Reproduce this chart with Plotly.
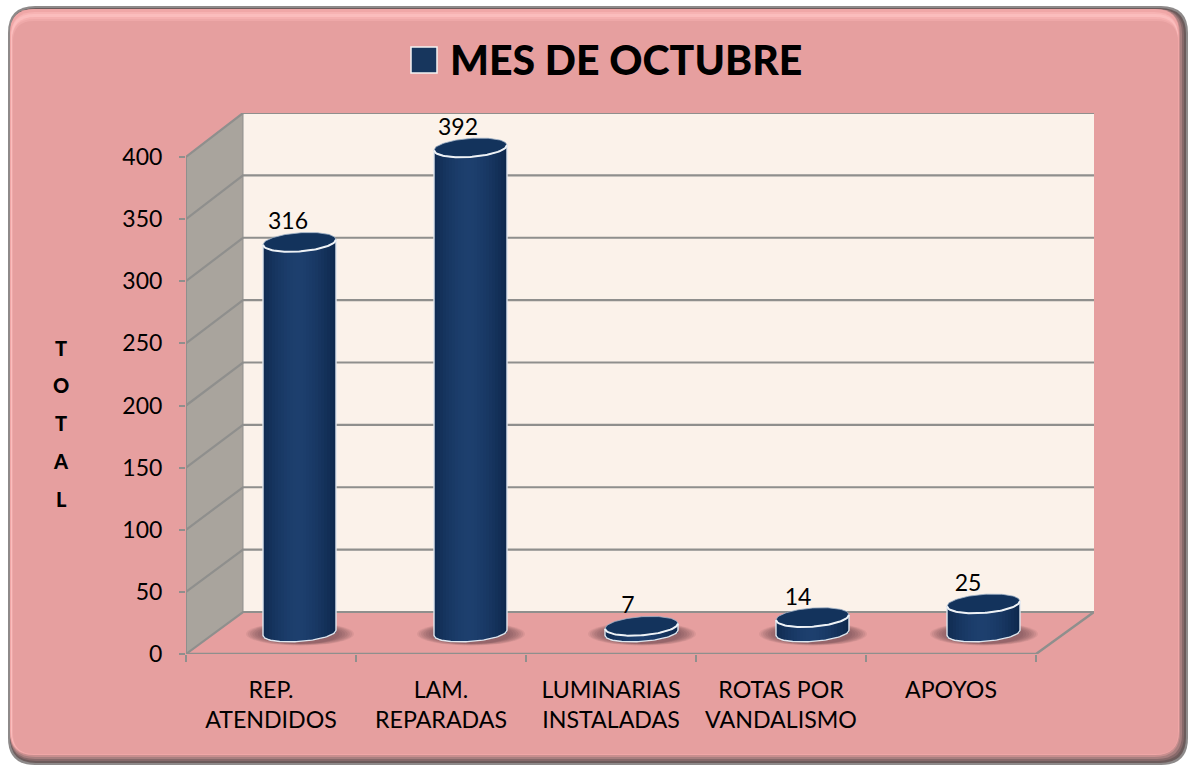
import math
import plotly.graph_objects as go

categories = ["REP.<br>ATENDIDOS", "LAM.<br>REPARADAS", "LUMINARIAS<br>INSTALADAS",
              "ROTAS POR<br>VANDALISMO", "APOYOS"]
values = [316, 392, 7, 14, 25]
y_ticks = [0, 50, 100, 150, 200, 250, 300, 350, 400]
legend_label = "MES DE OCTUBRE"
axis_title = ["T", "O", "T", "A", "L"]

W, H = 1190, 766
FONT = "Lato"
PINK = "#e69f9f"
GREY = "#8f8f8d"
PX_X = 170.0          # pixels per category
PX_Y = 497 / 400.0    # pixels per unit
X_MAX = 4.5 + 58 / PX_X
Y_MAX = 541 / PX_Y
WALL_DX = 57 / PX_X
def wall_dy(v):
    return 33.8 + v * 0.004

BAR_DX = 28.5 / PX_X
BAR_DRIFT = 1.0 / PX_X    # perspective: bars sit slightly further apart than the ticks
BAR_HW = 36.5 / PX_X
BASE_DY = 17.0
TOP_DY = 15.5
ELL_B = 9.3 / PX_Y
TILT = 2.6 / PX_Y
N_STRIPS = 24
LABEL_DX = 17 / PX_X
LABEL_DY = 18.5 / PX_Y

def px(x): return x / W
def py(y): return 1 - y / H

def rrect(x0, y0, x1, y1, r):
    a, b, c, d = px(x0), py(y0), px(x1), py(y1)
    rx, ry = r / W, r / H
    return (f"M{a+rx},{b} L{c-rx},{b} Q{c},{b} {c},{b-ry} L{c},{d+ry} Q{c},{d} {c-rx},{d} "
            f"L{a+rx},{d} Q{a},{d} {a},{d+ry} L{a},{b-ry} Q{a},{b} {a+rx},{b} Z")

shapes = []
def panel(x0, y0, x1, y1, r, col):
    shapes.append(dict(type="path", path=rrect(x0, y0, x1, y1, r), xref="paper", yref="paper",
                       fillcolor=col, line=dict(width=0), layer="below"))

panel(8, 6, 1188, 765, 27, "#8e8a8a")
panel(10, 8, 1186, 763, 26, "#6c5b5b")
panel(10, 9, 1184, 761, 26, "#87696a")
panel(10, 9, 1182, 759, 25, "#a87f7f")
panel(10, 9, 1180, 757, 25, "#c98f8f")
panel(10, 9, 1179, 755, 24, "#f0a7a7")
panel(11, 12, 1178, 754, 24, "#f7b3b3")
panel(11, 14, 1178, 754, 23, "#fbbdbd")
panel(12, 17, 1178, 754, 23, "#f5b0b0")
panel(12, 19, 1178, 754, 22, "#eea8a8")
panel(13, 21, 1178, 754, 21, PINK)

def ax_line(xs, ys, width=2.0, color=GREY):
    shapes.append(dict(type="path", xref="x2", yref="y", layer="below",
                       path="M" + " L".join(f"{a},{b}" for a, b in zip(xs, ys)),
                       line=dict(color=color, width=width)))

# walls, in the axes' own units
side_pts = [(-0.5, 0), (-0.5 + WALL_DX, wall_dy(0)), (-0.5 + WALL_DX, 400 + wall_dy(400)), (-0.5, 400)]
shapes.append(dict(type="path", xref="x2", yref="y", layer="below", fillcolor="#a9a49d", line=dict(width=0),
                   path="M" + " L".join(f"{a},{b}" for a, b in side_pts) + " Z"))
shapes.append(dict(type="rect", xref="x2", yref="y", layer="below", fillcolor="#fbf2ea", line=dict(width=0),
                   x0=-0.5 + WALL_DX, x1=X_MAX, y0=wall_dy(0), y1=400 + wall_dy(400)))

# grid on walls and frame
for t in y_ticks:
    d = wall_dy(t)
    ax_line([-0.5, -0.5 + WALL_DX, X_MAX], [t, t + d, t + d], 2.2)
ax_line([-0.5, -0.5], [0, 400], 2)
ax_line([-0.5, 4.5, X_MAX], [0, 0, wall_dy(0)], 2.5)
ax_line([-0.5 + WALL_DX, -0.5 + WALL_DX], [wall_dy(0), 400 + wall_dy(400)], 1)

# soft shadows under the cylinders
bar_centres = [i + BAR_DX + i * BAR_DRIFT for i in range(len(values))]
for cx in bar_centres:
    cs = cx + 0.5 / PX_X
    for grow, hpx, op in [(1.48, 11.5, .10), (1.43, 11.2, .12), (1.37, 10.8, .13), (1.31, 10.4, .14),
                          (1.24, 10, .14), (1.16, 10, .14), (1.08, 10, .14)]:
        hw = BAR_HW * grow
        hh = hpx / PX_Y
        shapes.append(dict(type="circle", xref="x2", yref="y", layer="below",
                           x0=cs - hw, x1=cs + hw, y0=16.1 - hh, y1=16.1 + hh,
                           fillcolor="#6b4a50", opacity=op, line=dict(width=0)))

# legend swatch
shapes.append(dict(type="rect", xref="paper", yref="paper", x0=px(411), x1=px(437), y0=py(73), y1=py(47),
                   fillcolor="#17365d", line=dict(color="#f4f4f4", width=1.5), layer="above"))

fig = go.Figure()

def lerp_col(t):
    c0, c1 = (14, 41, 78), (29, 63, 110)
    return "rgb(%d,%d,%d)" % tuple(round(a + (b - a) * t) for a, b in zip(c0, c1))

# cylinder bodies as vertical strips: each strip follows the lower rim of the ellipse
for s in range(N_STRIPS):
    u0 = -1 + 2 * s / N_STRIPS
    u1 = -1 + 2 * (s + 1) / N_STRIPS
    u = (u0 + u1) / 2
    base = BASE_DY + TILT * u - 8.6 / PX_Y * math.sqrt(max(0, 1 - u * u))
    top_offset = TOP_DY + TILT * u
    heights = [v + top_offset - base for v in values]
    shade = 1 - abs(u + 0.05) ** 1.6
    fig.add_trace(go.Bar(x=categories, y=heights, base=[base] * len(values),
                         width=(u1 - u0) * BAR_HW + 0.0005,
                         offset=[cx - i + u0 * BAR_HW for i, cx in enumerate(bar_centres)],
                         marker=dict(color=lerp_col(max(0, shade)), line=dict(width=0)),
                         hoverinfo="skip", showlegend=False))

STEPS = 48
for cx, v in zip(bar_centres, values):
    top = v + TOP_DY
    us = [-1 + 2 * k / STEPS for k in range(STEPS + 1)]
    low = [math.sqrt(max(0, 1 - a * a)) for a in us]
    # lower rim and sides
    rim_x = [cx - BAR_HW, cx - BAR_HW] + [cx + a * BAR_HW for a in us] + [cx + BAR_HW, cx + BAR_HW]
    rim_y = [top - TILT, BASE_DY - TILT] + [BASE_DY + TILT * a - 8.6 / PX_Y * b for a, b in zip(us, low)] + \
            [BASE_DY + TILT, top + TILT]
    fig.add_trace(go.Scatter(x=rim_x, y=rim_y, xaxis="x2", mode="lines",
                             line=dict(color="#dfe6ee", width=1.4), hoverinfo="skip", showlegend=False))
    # cap
    cap_x = [cx + a * BAR_HW for a in us] + [cx + a * BAR_HW for a in reversed(us)]
    cap_y = [top + TILT * a + ELL_B * b for a, b in zip(us, low)] + \
            [top + TILT * a - ELL_B * b for a, b in zip(reversed(us), reversed(low))]
    fig.add_trace(go.Scatter(x=cap_x, y=cap_y, xaxis="x2", mode="lines", fill="toself", fillcolor="#13335c",
                             line=dict(color="#9fb3c8", width=0.8), hoverinfo="skip", showlegend=False))
    fig.add_trace(go.Scatter(x=[cx + a * BAR_HW for a in us],
                             y=[top + TILT * a - ELL_B * b for a, b in zip(us, low)], xaxis="x2", mode="lines",
                             line=dict(color="#eef2f6", width=2), hoverinfo="skip", showlegend=False))

# value labels
fig.add_trace(go.Scatter(x=[i + LABEL_DX for i in range(len(values))],
                         y=[v + TOP_DY + LABEL_DY for v in values], xaxis="x2", mode="text",
                         text=[str(v) for v in values], textposition="middle center",
                         textfont=dict(family=FONT, size=23, color="#000000"),
                         hoverinfo="skip", showlegend=False, cliponaxis=False))

annotations = [dict(text=legend_label, xref="paper", yref="paper", x=px(448), y=py(60),
                    xanchor="left", yanchor="middle", showarrow=False,
                    font=dict(family=FONT, size=41, color="#000000", weight=900))]
for ch, yy in zip(axis_title, [348, 385, 423, 461, 499]):
    annotations.append(dict(text=ch, xref="paper", yref="paper", x=px(61), y=py(yy),
                            xanchor="center", yanchor="middle", showarrow=False,
                            font=dict(family=FONT, size=20, color="#000000", weight=900)))

fig.update_layout(
    width=W, height=H, autosize=False, margin=dict(l=0, r=0, t=0, b=0),
    paper_bgcolor="#ffffff", plot_bgcolor="rgba(0,0,0,0)", barmode="overlay", bargap=0,
    showlegend=False, shapes=shapes, annotations=annotations,
    xaxis=dict(type="category", categoryorder="array", categoryarray=categories,
               domain=[px(186), px(1094)], range=[-0.5, X_MAX], tickson="boundaries",
               ticks="outside", ticklen=7, tickwidth=2, tickcolor=GREY, showgrid=False,
               showline=False, zeroline=False, fixedrange=True, ticklabelstandoff=20,
               tickangle=0, automargin=False,
               tickfont=dict(family=FONT, size=23.2, color="#000000")),
    xaxis2=dict(type="linear", overlaying="x", anchor="y", range=[-0.5, X_MAX], visible=False, fixedrange=True),
    yaxis=dict(domain=[py(654), py(113)], range=[0, Y_MAX], tickmode="array", tickvals=y_ticks,
               ticks="outside", ticklen=6, tickwidth=2, tickcolor=GREY, showgrid=False, showline=False,
               zeroline=False, fixedrange=True, ticklabelstandoff=12, automargin=False,
               tickfont=dict(family=FONT, size=23, color="#000000")),
)

fig.write_html("out.html", post_script="document.body.style.margin='0';document.body.style.overflow='hidden';",
               config=dict(displayModeBar=False))
